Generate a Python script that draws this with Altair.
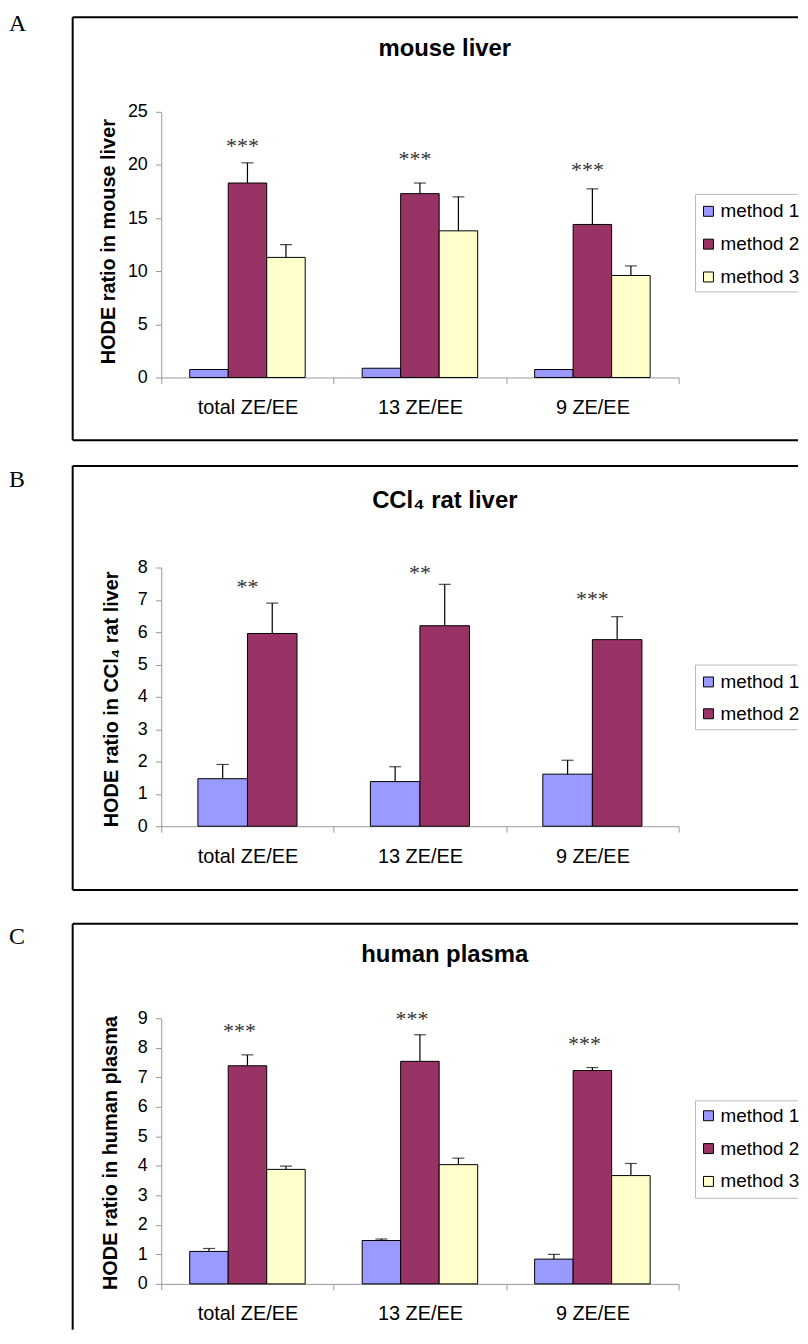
import altair as alt
import pandas as pd

categories = ["total ZE/EE", "13 ZE/EE", "9 ZE/EE"]
method_names = ["method 1", "method 2", "method 3"]
method_colors = ["#9999FF", "#993366", "#FFFFCC"]

# Panel A: mouse liver
a_method1 = [0.75, 0.87, 0.75]
a_method2 = [18.3, 17.3, 14.4]
a_method3 = [11.3, 13.8, 9.6]
a_err1 = [0.0, 0.0, 0.0]
a_err2 = [1.9, 1.0, 3.35]
a_err3 = [1.2, 3.2, 0.9]
a_stars = ["***", "***", "***"]
a_star_level = [22.1, 20.8, 19.8]

# Panel B: CCl4 rat liver
b_method1 = [1.47, 1.38, 1.61]
b_method2 = [5.96, 6.2, 5.77]
b_err1 = [0.44, 0.46, 0.43]
b_err2 = [0.94, 1.28, 0.71]
b_stars = ["**", "**", "***"]
b_star_level = [7.49, 7.92, 7.12]

# Panel C: human plasma
c_method1 = [1.10, 1.47, 0.84]
c_method2 = [7.39, 7.54, 7.23]
c_method3 = [3.88, 4.04, 3.67]
c_err1 = [0.10, 0.05, 0.16]
c_err2 = [0.37, 0.90, 0.10]
c_err3 = [0.11, 0.22, 0.41]
c_stars = ["***", "***", "***"]
c_star_level = [8.66, 9.07, 8.22]

SANS = "Liberation Sans"
SERIF = "Liberation Serif"
PLOT_LEFT = 162
PLOT_WIDTH = 520
RIGHT = 802


def panel(letter, title, ytitle, series, errs, stars, star_level, ymax, ystep, g):
    n = len(series)
    meths = method_names[:n]
    rows = []
    for m, vals, es in zip(meths, series, errs):
        for c, v, e in zip(categories, vals, es):
            rows.append({"category": c, "method": m, "value": v, "err": e, "top": v + e})
    df = pd.DataFrame(rows)
    sdf = pd.DataFrame({"category": categories, "star": stars, "level": star_level})
    L, T, W, H = PLOT_LEFT, g["top"], PLOT_WIDTH, g["height"]

    def px(x):
        return x - L

    def py(y):
        return y - T

    xscale = alt.Scale(domain=categories, paddingInner=0, paddingOuter=0)
    xaxis = alt.Axis(title=None, labelAngle=0, labelFontSize=20, labelFont=SANS,
                     labelColor="black", labelPadding=14, tickBand="extent",
                     tickSize=6, tickColor="#999999", domainColor="#999999",
                     tickWidth=1, domainWidth=1, labelLimit=300)
    yscale = alt.Scale(domain=[0, ymax], nice=False, zero=True)
    yaxis = alt.Axis(title=ytitle, values=list(range(0, ymax + 1, ystep)), grid=False,
                     labelFontSize=18, labelFont=SANS, labelColor="black", labelPadding=8,
                     tickSize=6, tickColor="#999999", domainColor="#999999",
                     tickWidth=1, domainWidth=1,
                     titleFont=SANS, titleFontSize=20, titleFontWeight="bold",
                     titleColor="black", titleAngle=270, titleAlign="center",
                     titleBaseline="middle", titleX=px(g["ytx"]), titleY=py(g["yty"]))
    xoscale = alt.Scale(domain=meths, paddingInner=0, paddingOuter=0.74)
    cscale = alt.Scale(domain=meths, range=method_colors[:n])

    def X():
        return alt.X("category:N", sort=categories, scale=xscale, axis=xaxis)

    def XO():
        return alt.XOffset("method:N", sort=meths, scale=xoscale)

    def Y(f):
        return alt.Y(f"{f}:Q", scale=yscale, axis=yaxis)

    base = alt.Chart(df)
    bars = base.mark_bar(stroke="black", strokeWidth=1).encode(
        x=X(), xOffset=XO(), y=Y("value"),
        color=alt.Color("method:N", sort=meths, scale=cscale, legend=None))
    errbase = base.transform_filter("datum.err > 0")
    err = errbase.mark_rule(color="black", strokeWidth=1.2).encode(
        x=X(), xOffset=XO(), y=Y("value"), y2="top:Q")
    caps = errbase.mark_tick(color="black", thickness=1.2, size=12).encode(
        x=X(), xOffset=XO(), y=Y("top"))
    star = alt.Chart(sdf).mark_text(font=SERIF, fontSize=22, color="#333333",
                                     baseline="middle", dx=g["stardx"], dy=3).encode(
        x=X(), y=Y("level"), text="star:N")

    one = alt.Chart(pd.DataFrame({"k": [0]}))
    ft, fb = g["ftop"], g["fbot"]
    layers = []
    if g.get("extra_top"):
        # invisible spacer that sets the gap above this panel
        layers.append(one.mark_rule(color="white", strokeWidth=1, opacity=0).encode(
            x=alt.value(px(73)), x2=alt.value(px(80)), y=alt.value(py(ft - g["extra_top"]))))
    layers += [
        one.mark_rule(color="black", strokeWidth=2).encode(
            x=alt.value(px(73)), x2=alt.value(px(RIGHT)), y=alt.value(py(ft))),
        one.mark_rule(color="black", strokeWidth=2).encode(
            x=alt.value(px(73)), y=alt.value(py(ft)), y2=alt.value(py(fb))),
    ]
    if g.get("fbottom_line", True):
        layers.append(one.mark_rule(color="black", strokeWidth=2).encode(
            x=alt.value(px(73)), x2=alt.value(px(RIGHT)), y=alt.value(py(fb))))
    # legend box (open on the right, as the page cuts it)
    lt, lb = g["legbox"]
    layers += [
        one.mark_rule(color="#bbbbbb", strokeWidth=1).encode(
            x=alt.value(px(699)), x2=alt.value(px(RIGHT)), y=alt.value(py(lt))),
        one.mark_rule(color="#bbbbbb", strokeWidth=1).encode(
            x=alt.value(px(699)), x2=alt.value(px(RIGHT)), y=alt.value(py(lb))),
        one.mark_rule(color="#bbbbbb", strokeWidth=1).encode(
            x=alt.value(px(699)), y=alt.value(py(lt)), y2=alt.value(py(lb))),
    ]
    # legend entries
    for i, m in enumerate(meths):
        yc = g["legy"] + g["legstep"] * i
        layers.append(one.mark_square(size=100, filled=True, stroke="black",
                                      strokeWidth=1, opacity=1).encode(
            x=alt.value(px(712)), y=alt.value(py(yc)),
            color=alt.value(method_colors[i])))
        layers.append(one.mark_text(text=m, font=SANS, fontSize=19, color="black",
                                    align="left", baseline="middle").encode(
            x=alt.value(px(724)), y=alt.value(py(yc))))
    layers += [
        bars, err, caps, star,
        one.mark_text(text=title, font=SANS, fontSize=24, fontWeight="bold",
                      color="black", align="center", baseline="middle").encode(
            x=alt.value(px(447)), y=alt.value(py(g["titley"]))),
        one.mark_text(text=letter, font=SERIF, fontSize=24, color="black",
                      align="left", baseline="middle").encode(
            x=alt.value(px(9)), y=alt.value(py(g["lettery"]))),
    ]
    return alt.layer(*layers).properties(width=W, height=H)


gA = dict(top=110, height=267, ftop=15, fbot=440, lettery=21.5,
          titley=47, legbox=(193, 291), legy=210, legstep=33, ytx=109, yty=240,
          stardx=-5)
gB = dict(top=569, height=260, ftop=467, fbot=893, lettery=481,
          titley=502, legbox=(667, 732), legy=684, legstep=32, ytx=112.5, yty=701,
          stardx=0)
gC = dict(top=1019, height=267, ftop=924, fbot=1332,
          fbottom_line=False, lettery=937, titley=955, legbox=(1102, 1200), legy=1117,
          legstep=33, ytx=111.5, yty=1154, stardx=-8, extra_top=9)

pA = panel("A", "mouse liver", "HODE ratio in mouse liver",
           [a_method1, a_method2, a_method3], [a_err1, a_err2, a_err3],
           a_stars, a_star_level, 25, 5, gA)
pB = panel("B", "CCl\u2084 rat liver", "HODE ratio in CCl\u2084 rat liver",
           [b_method1, b_method2], [b_err1, b_err2],
           b_stars, b_star_level, 8, 1, gB)
pC = panel("C", "human plasma", "HODE ratio in human plasma",
           [c_method1, c_method2, c_method3], [c_err1, c_err2, c_err3],
           c_stars, c_star_level, 9, 1, gC)

chart = alt.vconcat(pA, pB, pC, spacing=24).resolve_scale(
    x="independent", y="independent", color="independent", xOffset="independent"
).properties(
    padding={"left": 1, "top": 0, "right": 0, "bottom": 0}
).configure(font=SANS, background="white").configure_view(stroke=None)

chart.save("out.html", embed_options={"renderer": "svg", "actions": False})
